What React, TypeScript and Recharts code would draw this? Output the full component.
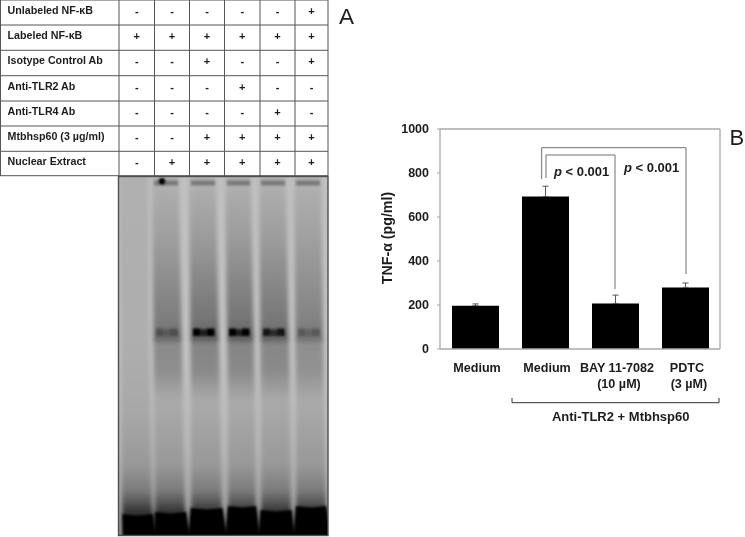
import React from "react";
import { BarChart, Bar, XAxis, YAxis, ErrorBar, ReferenceLine, Cell } from "recharts";

// ---- Panel B data ----
const groupIds = ["g1", "g2", "g3", "g4"];
const tickLine1 = ["Medium", "Medium", "BAY 11-7082", "PDTC"];
const tickLine2 = ["", "", "(10 \u00b5M)", "(3 \u00b5M)"];
const tnfValues = [197, 693, 207, 280];
const tnfErrors = [8, 47, 38, 20];
const yTicks = [0, 200, 400, 600, 800, 1000];
const chartData = groupIds.map((id, i) => ({ id, value: tnfValues[i], err: [0, tnfErrors[i]] }));

// ---- Panel A data ----
const rowLabels = [
  "Unlabeled NF-\u03baB",
  "Labeled NF-\u03baB",
  "Isotype Control Ab",
  "Anti-TLR2 Ab",
  "Anti-TLR4 Ab",
  "Mtbhsp60 (3 \u00b5g/ml)",
  "Nuclear Extract",
];
const rowSigns = [
  ["-", "-", "-", "-", "-", "+"],
  ["+", "+", "+", "+", "+", "+"],
  ["-", "-", "+", "-", "-", "+"],
  ["-", "-", "-", "+", "-", "-"],
  ["-", "-", "-", "-", "+", "-"],
  ["-", "-", "+", "+", "+", "+"],
  ["-", "+", "+", "+", "+", "+"],
];
const laneBand = [0, 0.3, 1, 1, 0.8, 0.25];
const laneSmear = [0, 0.85, 1, 1, 0.95, 0.75];
const laneFront = [514, 512, 508, 506, 510, 506];

// ---- layout ----
const colX = [119, 154.5, 189.5, 224.5, 260, 295, 328];
const rowY = [0, 25, 50.3, 75.7, 101, 126, 151.3, 175.7];
const laneTop = [[119, 148], [152, 179], [189, 216], [225, 251], [259, 286], [294, 321]];
const laneMid = [[121, 150], [154, 183], [191, 220], [228, 255], [261, 290], [296, 324]];
const laneLow = [[122, 152], [155, 185], [191, 222], [228, 256], [261, 291], [296, 326]];
const laneBot = [[123, 155], [155, 189], [189, 226], [226, 259], [259, 294], [294, 330]];
const FONT = "'Liberation Sans', Arial, sans-serif";
const INK = "#1c1c1c";

const lanePts = (i: number, y0 = 175, y1 = 545) =>
  `${laneTop[i][0]},${y0} ${laneTop[i][1]},${y0} ${laneMid[i][1]},400 ${laneLow[i][1]},505 ${laneBot[i][1]},${Math.min(y1, 534)} ${laneBot[i][1]},${y1} ${laneBot[i][0]},${y1} ${laneBot[i][0]},${Math.min(y1, 534)} ${laneLow[i][0]},505 ${laneMid[i][0]},400`;

const smearPts = (i: number) =>
  `${laneTop[i][0]},190 ${laneTop[i][1]},190 ${laneMid[i][1]},400 ${laneMid[i][0]},400`;

const frontPts = (i: number) => {
  const y = laneFront[i];
  const l = laneLow[i][0] + (laneBot[i][0] - laneLow[i][0]) * ((y - 505) / 29);
  const r = laneLow[i][1] + (laneBot[i][1] - laneLow[i][1]) * ((y - 505) / 29);
  return `${l},${y} ${(l + r) / 2},${y + 1.5} ${r},${y} ${laneBot[i][1]},534 ${laneBot[i][1]},545 ${laneBot[i][0]},545 ${laneBot[i][0]},534`;
};

const XTick = (props: any) => {
  const { x, y, index } = props;
  return (
    <g fontFamily={FONT} fontWeight="bold" fontSize={12.6} fill={INK} textAnchor="middle">
      <text x={x + 2} y={y + 15}>{tickLine1[index]}</text>
      {tickLine2[index] ? <text x={x + 4} y={y + 31}>{tickLine2[index]}</text> : null}
    </g>
  );
};

function Gel() {
  return (
    <svg width={745} height={537} style={{ position: "absolute", left: 0, top: 0 }}>
      <defs>
        <linearGradient id="gelBg" x1="0" y1="176" x2="0" y2="537" gradientUnits="userSpaceOnUse">
          <stop offset="0" stopColor="#c0c0c0" />
          <stop offset="0.5" stopColor="#c2c2c2" />
          <stop offset="0.75" stopColor="#b8b8b8" />
          <stop offset="0.92" stopColor="#a6a6a6" />
          <stop offset="1" stopColor="#8a8a8a" />
        </linearGradient>
        <linearGradient id="gelLane" x1="0" y1="176" x2="0" y2="537" gradientUnits="userSpaceOnUse">
          <stop offset="0" stopColor="#b0b0b0" />
          <stop offset="0.45" stopColor="#aeaeae" />
          <stop offset="0.65" stopColor="#a8a8a8" />
          <stop offset="0.8" stopColor="#989898" />
          <stop offset="0.87" stopColor="#7c7c7c" />
          <stop offset="0.9" stopColor="#5a5a5a" />
          <stop offset="0.93" stopColor="#333333" />
          <stop offset="1" stopColor="#222222" />
        </linearGradient>
        <linearGradient id="gelSmear" x1="0" y1="190" x2="0" y2="400" gradientUnits="userSpaceOnUse">
          <stop offset="0" stopColor="#000" stopOpacity="0.02" />
          <stop offset="0.2" stopColor="#000" stopOpacity="0.1" />
          <stop offset="0.45" stopColor="#000" stopOpacity="0.24" />
          <stop offset="0.62" stopColor="#000" stopOpacity="0.33" />
          <stop offset="0.72" stopColor="#000" stopOpacity="0.47" />
          <stop offset="0.725" stopColor="#000" stopOpacity="0.24" />
          <stop offset="0.86" stopColor="#000" stopOpacity="0.2" />
          <stop offset="1" stopColor="#000" stopOpacity="0" />
        </linearGradient>
        <filter id="b2" x="-10%" y="-10%" width="120%" height="120%"><feGaussianBlur stdDeviation="2.2" /></filter>
        <filter id="b1" x="-30%" y="-60%" width="160%" height="220%"><feGaussianBlur stdDeviation="1.3" /></filter>
        <filter id="b0" x="-10%" y="-20%" width="120%" height="140%"><feGaussianBlur stdDeviation="0.9" /></filter>
        <clipPath id="gelClip"><rect x={119} y={177} width={209} height={359} /></clipPath>
      </defs>
      <g clipPath="url(#gelClip)">
        <rect x={119} y={177} width={209} height={359} fill="url(#gelBg)" />
        <g filter="url(#b2)">
          {laneTop.map((_, i) => <polygon key={i} points={lanePts(i)} fill="url(#gelLane)" />)}
          {laneTop.map((_, i) =>
            laneSmear[i] > 0 ? (
              <polygon key={i} points={smearPts(i)} fill="url(#gelSmear)" opacity={laneSmear[i]} />
            ) : null
          )}
        </g>
        <g filter="url(#b0)">
          {laneTop.map((_, i) => <polygon key={i} points={frontPts(i)} fill="#000" />)}
        </g>
        <g filter="url(#b1)">
          {laneTop.map((_, i) => {
            if (!laneBand[i]) return null;
            const x0 = laneTop[i][0] + 1;
            const w = laneTop[i][1] - laneTop[i][0];
            return (
              <g key={i} opacity={laneBand[i]}>
                <rect x={x0 + 3} y={329.5} width={w - 5} height={6.5} fill="#1a1a1a" />
                <rect x={x0 + 3} y={328.5} width={7} height={7.5} fill="#000" />
                <rect x={x0 + w - 10} y={328.5} width={7} height={7.5} fill="#000" />
              </g>
            );
          })}
          {laneTop.map((_, i) =>
            i > 0 ? <rect key={i} x={laneTop[i][0] + 2} y={180.5} width={laneTop[i][1] - laneTop[i][0] - 3} height={5} fill="#7a7a7a" /> : null
          )}
          <circle cx={162} cy={181.5} r={3.6} fill="#000" />
        </g>
      </g>
      <rect x={118.5} y={176.5} width={209.5} height={359} fill="none" stroke="#4d4d4d" strokeWidth={1.4} />
    </svg>
  );
}

function Table() {
  return (
    <svg width={745} height={537} style={{ position: "absolute", left: 0, top: 0 }} fontFamily={FONT} fill={INK} fontWeight="bold">
      {rowY.map((y, i) => <line key={i} x1={0} x2={328} y1={y} y2={y} stroke="#555" strokeWidth={1} />)}
      <line x1={0.5} x2={0.5} y1={0} y2={176} stroke="#555" />
      {colX.map((x, i) => <line key={i} x1={x} x2={x} y1={0} y2={176} stroke="#555" />)}
      {rowLabels.map((t, i) => (
        <text key={t} x={7.5} y={rowY[i] + 13.8} fontSize={10.7}>{t}</text>
      ))}
      {rowSigns.map((signs, r) =>
        signs.map((s, c) => (
          <text key={`${r}-${c}`} x={(colX[c] + colX[c + 1]) / 2} y={rowY[r] + 15} fontSize={11} textAnchor="middle">{s}</text>
        ))
      )}
    </svg>
  );
}

function Overlay() {
  const g = "#707070";
  return (
    <svg width={745} height={537} style={{ position: "absolute", left: 0, top: 0 }} fontFamily={FONT} fill={INK}>
      <line x1={720} x2={720} y1={129} y2={349} stroke="#a8a8a8" strokeWidth={1.3} />
      <polyline points="541.7,179 541.7,147.7 686,147.7 686,274" fill="none" stroke={g} strokeWidth={1} />
      <polyline points="546,178 546,155 615,155 615,289" fill="none" stroke={g} strokeWidth={1} />
      <text x={554} y={176} fontSize={13} fontWeight="bold"><tspan fontStyle="italic">p</tspan> &lt; 0.001</text>
      <text x={624} y={172} fontSize={13} fontWeight="bold"><tspan fontStyle="italic">p</tspan> &lt; 0.001</text>
      <polyline points="512,398 512,402.7 719,402.7 719,398" fill="none" stroke="#333" strokeWidth={1} />
      <text x={620.7} y={421} fontSize={13} fontWeight="bold" textAnchor="middle">Anti-TLR2 + Mtbhsp60</text>
      <text x={339} y={24} fontSize={22.5}>A</text>
      <text x={729.5} y={145} fontSize={22}>B</text>
    </svg>
  );
}

export default function App() {
  return (
    <div style={{ position: "absolute", left: 0, top: 0, width: 745, height: 537, overflow: "hidden", background: "#fff", filter: "blur(0.35px)" }}>
      <Gel />
      <Table />
      <div style={{ position: "absolute", left: 0, top: 0 }}>
        <BarChart width={745} height={537} data={chartData} margin={{ left: 380, right: 25, top: 129, bottom: 148 }} barSize={47}>
          <XAxis
            dataKey="id"
            height={40}
            tick={<XTick />}
            tickLine={false}
            axisLine={{ stroke: "#a8a8a8", strokeWidth: 1.3 }}
            interval={0}
          />
          <YAxis
            width={60}
            domain={[0, 1000]}
            ticks={yTicks}
            tickSize={3}
            tickMargin={8}
            tick={{ fontFamily: FONT, fontWeight: "bold", fontSize: 12.5, fill: INK }}
            tickLine={{ stroke: "#a8a8a8" }}
            axisLine={{ stroke: "#a8a8a8", strokeWidth: 1.3 }}
            label={{
              value: "TNF-\u03b1 (pg/ml)",
              angle: -90,
              position: "insideLeft",
              offset: 0,
              dx: 7,
              dy: -1,
              style: { fontFamily: FONT, fontWeight: "bold", fontSize: 14.2, fill: INK, textAnchor: "middle" },
            }}
          />
          <ReferenceLine y={1000} stroke="#a8a8a8" strokeWidth={1.3} />
          <Bar dataKey="value" fill="#000" isAnimationActive={false}>
            {chartData.map((d) => <Cell key={d.id} fill="#000" />)}
            <ErrorBar dataKey="err" width={3} stroke="#555" strokeWidth={1} direction="y" isAnimationActive={false} />
          </Bar>
        </BarChart>
      </div>
      <Overlay />
    </div>
  );
}
